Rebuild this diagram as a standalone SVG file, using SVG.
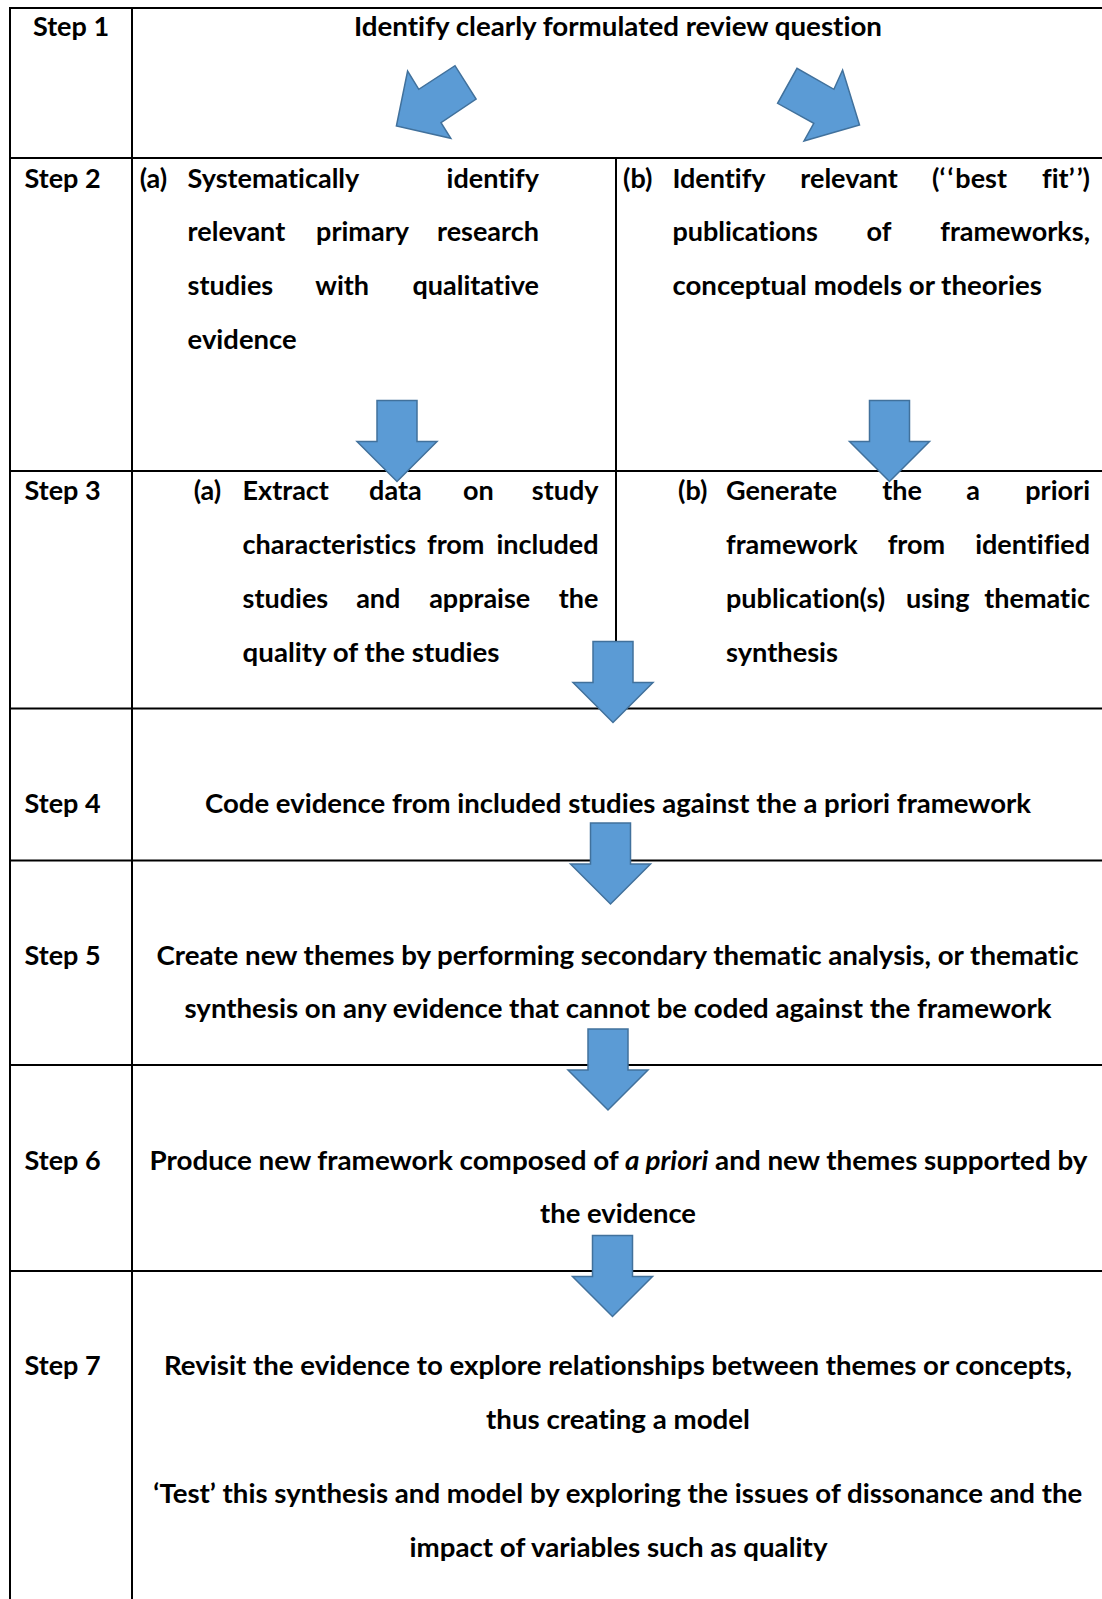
<svg xmlns="http://www.w3.org/2000/svg" xmlns:xlink="http://www.w3.org/1999/xlink" width="1102" height="1599" viewBox="0 0 1102 1599">
<style>
.bg{fill:#ffffff}
.g{stroke:#000;stroke-width:2;fill:none}
.t{font-family:Lato,'Open Sans','Liberation Sans',sans-serif;font-weight:700;font-size:27px;fill:#000;font-variant-ligatures:none;font-feature-settings:"liga" 0,"clig" 0}
.m{text-anchor:middle}
.e{text-anchor:end}
.i{font-style:italic}
.q{letter-spacing:2px}
.ar{fill:#5B9BD5;stroke:#41719C;stroke-width:1.5;stroke-linejoin:miter}
</style>
<defs>
<path id="down" d="M-20,0 H20 V41 H40 L0,81 L-40,41 H-20 Z"/>
</defs>
<rect class="bg" x="0" y="0" width="1102" height="1599"/>
<g id="grid">
<line class="g" x1="10" y1="8" x2="1102" y2="8"/>
<line class="g" x1="10" y1="158" x2="1102" y2="158"/>
<line class="g" x1="10" y1="471" x2="1102" y2="471"/>
<line class="g" x1="10" y1="708.5" x2="1102" y2="708.5"/>
<line class="g" x1="10" y1="860.5" x2="1102" y2="860.5"/>
<line class="g" x1="10" y1="1065" x2="1102" y2="1065"/>
<line class="g" x1="10" y1="1271" x2="1102" y2="1271"/>
<line class="g" x1="10" y1="7" x2="10" y2="1599"/>
<line class="g" x1="132" y1="7" x2="132" y2="1599"/>
<line class="g" x1="616" y1="158" x2="616" y2="708.5"/>
</g>
<g id="step1">
<text class="t m" x="71" y="36.2">Step 1</text>
<text class="t m" x="618" y="36.2" textLength="528" lengthAdjust="spacingAndGlyphs">Identify clearly formulated review question</text>
</g>
<g id="step2">
<text class="t" x="24.5" y="188.1">Step 2</text>
</g>
<g id="step2a">
<text class="t" x="139.7" y="188.1">(a)</text>
<text class="t" x="187.6" y="188.1">Systematically</text>
<text class="t e" x="539" y="188.1">identify</text>
<text class="t" x="187.6" y="241.1">relevant</text>
<text class="t m" x="362.5" y="241.1">primary</text>
<text class="t e" x="539" y="241.1">research</text>
<text class="t" x="187.6" y="295.1">studies</text>
<text class="t m" x="342.2" y="295.1">with</text>
<text class="t e" x="539" y="295.1">qualitative</text>
<text class="t" x="187.6" y="349.1" textLength="109" lengthAdjust="spacingAndGlyphs">evidence</text>
</g>
<g id="step2b">
<text class="t" x="623" y="188.1">(b)</text>
<text class="t" x="672.4" y="188.1">Identify</text>
<text class="t m" x="849.1" y="188.1">relevant</text>
<text class="t m" x="969.5" y="188.1">(<tspan class="q">‘‘</tspan>best</text>
<text class="t e" x="1090" y="188.1">fit<tspan class="q">’</tspan>’)</text>
<text class="t" x="672.4" y="241.1">publications</text>
<text class="t m" x="879" y="241.1">of</text>
<text class="t e" x="1090" y="241.1">frameworks,</text>
<text class="t" x="672.4" y="295.1" textLength="369.4" lengthAdjust="spacingAndGlyphs">conceptual models or theories</text>
</g>
<g id="step3">
<text class="t" x="24.5" y="500">Step 3</text>
</g>
<g id="step3a">
<text class="t" x="193.7" y="500">(a)</text>
<text class="t" x="242.6" y="500">Extract</text>
<text class="t m" x="395.4" y="500">data</text>
<text class="t m" x="478.3" y="500">on</text>
<text class="t e" x="598.5" y="500">study</text>
<text class="t" x="242.6" y="554">characteristics</text>
<text class="t m" x="455.7" y="554">from</text>
<text class="t e" x="598.5" y="554">included</text>
<text class="t" x="242.6" y="608.1">studies</text>
<text class="t m" x="378.3" y="608.1">and</text>
<text class="t m" x="479.7" y="608.1">appraise</text>
<text class="t e" x="598.5" y="608.1">the</text>
<text class="t" x="242.6" y="662.1" textLength="256.9" lengthAdjust="spacingAndGlyphs">quality of the studies</text>
</g>
<g id="step3b">
<text class="t" x="678" y="500">(b)</text>
<text class="t" x="726" y="500">Generate</text>
<text class="t m" x="902.1" y="500">the</text>
<text class="t m" x="973.1" y="500">a</text>
<text class="t e" x="1090" y="500">priori</text>
<text class="t" x="726" y="554">framework</text>
<text class="t m" x="916.4" y="554">from</text>
<text class="t e" x="1090" y="554">identified</text>
<text class="t" x="726" y="608.1">publication(s)</text>
<text class="t m" x="937.7" y="608.1">using</text>
<text class="t e" x="1090" y="608.1">thematic</text>
<text class="t" x="726" y="662.1" textLength="112" lengthAdjust="spacingAndGlyphs">synthesis</text>
</g>
<g id="step4">
<text class="t" x="24.5" y="813">Step 4</text>
<text class="t m" x="618" y="813" textLength="826" lengthAdjust="spacingAndGlyphs">Code evidence from included studies against the a priori framework</text>
</g>
<g id="step5">
<text class="t" x="24.5" y="964.9">Step 5</text>
<text class="t m" x="617.5" y="964.9" textLength="922" lengthAdjust="spacingAndGlyphs">Create new themes by performing secondary thematic analysis, or thematic</text>
<text class="t m" x="618" y="1017.9" textLength="867" lengthAdjust="spacingAndGlyphs">synthesis on any evidence that cannot be coded against the framework</text>
</g>
<g id="step6">
<text class="t" x="24.5" y="1169.8">Step 6</text>
<text class="t m" x="618.5" y="1169.8" textLength="938" lengthAdjust="spacingAndGlyphs">Produce new framework composed of <tspan class="i">a priori</tspan> and new themes supported by</text>
<text class="t m" x="618" y="1222.8" textLength="156" lengthAdjust="spacingAndGlyphs">the evidence</text>
</g>
<g id="step7">
<text class="t" x="24.5" y="1374.7">Step 7</text>
<text class="t m" x="618" y="1374.7" textLength="908" lengthAdjust="spacingAndGlyphs">Revisit the evidence to explore relationships between themes or concepts,</text>
<text class="t m" x="618" y="1428.7" textLength="264" lengthAdjust="spacingAndGlyphs">thus creating a model</text>
<text class="t m" x="617.8" y="1503.1" textLength="929" lengthAdjust="spacingAndGlyphs">‘Test’ this synthesis and model by exploring the issues of dissonance and the</text>
<text class="t m" x="618.5" y="1557.1" textLength="418" lengthAdjust="spacingAndGlyphs">impact of variables such as quality</text>
</g>
<g id="connectors">
<polygon class="ar" points="396.4,126 407.6,71 418.8,89.3 455,65.7 476.1,99 441,122.7 450.8,138.3"/>
<polygon class="ar" points="859.5,125 842.6,70 833.9,89.3 797,68.3 777.6,103.3 813.8,123.3 804,141"/>
<use xlink:href="#down" class="ar" x="397" y="400.5"/>
<use xlink:href="#down" class="ar" x="889.5" y="400.5"/>
<use xlink:href="#down" class="ar" x="613" y="641.5"/>
<use xlink:href="#down" class="ar" x="610.5" y="823"/>
<use xlink:href="#down" class="ar" x="608" y="1029"/>
<use xlink:href="#down" class="ar" x="612.5" y="1235.5"/>
</g>
</svg>
